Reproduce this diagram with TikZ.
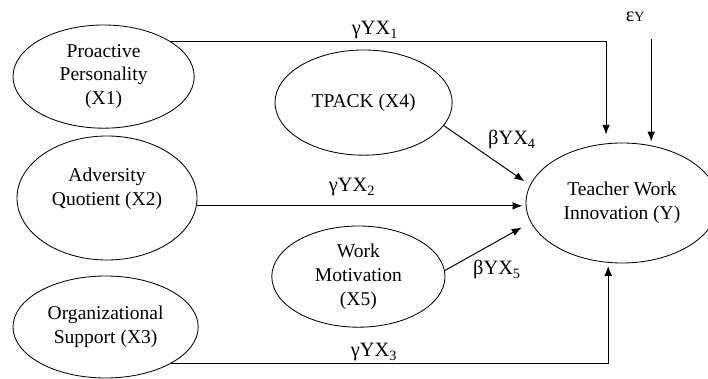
\documentclass[tikz,border=0pt]{standalone}
\usepackage{fontspec}
\setmainfont{Liberation Serif}
\usetikzlibrary{arrows.meta, positioning, shapes.geometric}

\begin{document}
\begin{tikzpicture}[
  latent/.style={draw, ellipse, inner sep=0pt, align=center,
    font=\fontsize{13.9}{17}\selectfont, line width=0.6pt},
  arr/.style={-{Latex[length=7pt, width=5.5pt]}, line width=0.7pt},
  coef/.style={font=\fontsize{14.5}{16}\selectfont, anchor=base, inner sep=0pt}
]
  \useasboundingbox (0,0) rectangle (17.7,9.475);

  % Exogenous variables
  \node[latent, minimum width=4.53cm, minimum height=2.58cm] (x1) at (2.59,7.56)
    {Proactive\\Personality\\(X1)};
  \node[latent, minimum width=4.5cm, minimum height=3.1cm,
    label={[align=center, font=\fontsize{13.9}{17}\selectfont, yshift=0.22cm]center:Adversity\\Quotient (X2)}]
    (x2) at (2.675,4.525) {};
  \node[latent, minimum width=4.63cm, minimum height=2.55cm] (x3) at (2.64,1.3)
    {Organizational\\Support (X3)};

  % Mediating variables
  \node[latent, minimum width=4.43cm, minimum height=2.63cm] (x4) at (9.09,6.91)
    {TPACK (X4)};
  \node[latent, minimum width=4.33cm, minimum height=2.53cm] (x5) at (8.96,2.56)
    {Work\\Motivation\\(X5)};

  % Endogenous variable
  \node[latent, minimum width=4.8cm, minimum height=3cm] (y) at (15.55,4.4)
    {Teacher Work\\Innovation (Y)};

  % Paths
  \draw[arr, shorten >=0.22cm] (x1.28) -| (y.105);
  \draw[arr, shorten >=0.08cm] (x2.355) -- (x2.355 -| y.west);
  \draw[arr, shorten >=0.08cm] (x3.331) -| (y.257);
  \draw[arr, shorten >=0.17cm] (x4.344) -- (y.169);
  \draw[arr, shorten >=0.26cm] (x5.4) -- (y.192);

  % Error term
  \node[coef] (ey) at (15.88,8.925) {ε{\fontsize{10}{10}\selectfont Y}};
  \coordinate (err) at (16.28,8.5);
  \draw[arr, shorten >=0.1cm] (err) -- (err |- y.63);

  % Coefficients
  \node[coef] (g1) at (9.375,8.6) {γYX\textsubscript{1}};
  \node[coef] (g2) at (8.8,4.675) {γYX\textsubscript{2}};
  \node[coef] (g3) at (9.35,0.55) {γYX\textsubscript{3}};
  \node[coef] (b4) at (12.8,5.85) {βYX\textsubscript{4}};
  \node[coef] (b5) at (12.425,2.6) {βYX\textsubscript{5}};
\end{tikzpicture}
\end{document}
